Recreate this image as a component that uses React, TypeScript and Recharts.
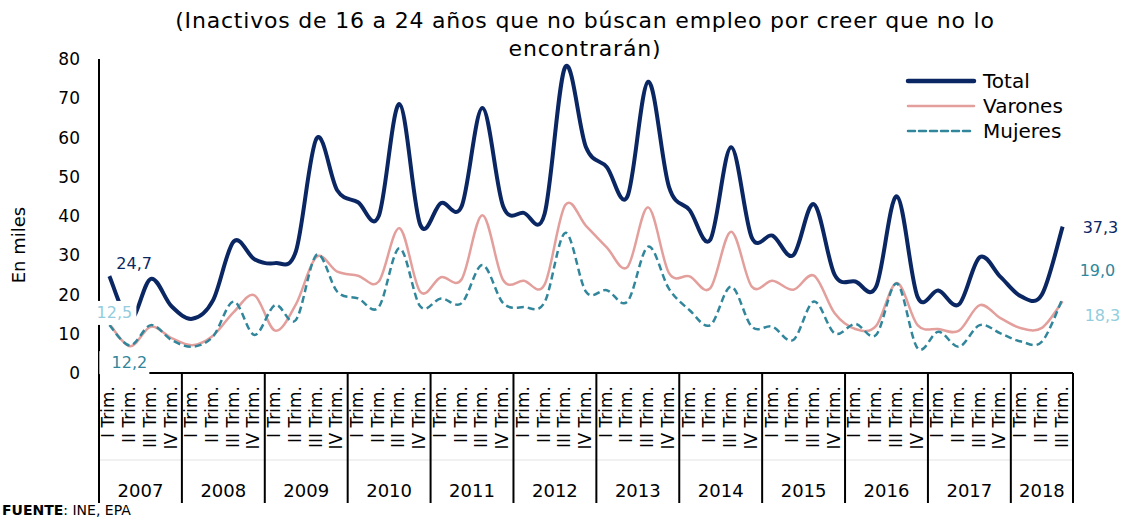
import React from 'react';
import { LineChart, Line, XAxis, YAxis, LabelList } from 'recharts';

const years = ['2007', '2008', '2009', '2010', '2011', '2012', '2013', '2014', '2015', '2016', '2017', '2018'];
const quarterNames = ['I', 'II', 'III', 'IV'];
const yTicks = [0, 10, 20, 30, 40, 50, 60, 70, 80];

const total = [
  24.7, 13.5, 24.0, 17.0, 13.8, 18.5, 33.5, 29.0, 28.0, 31.0, 59.8, 46.5,
  43.5, 40.0, 68.5, 37.8, 43.3, 42.5, 67.5, 42.5, 40.8, 40.5, 78.0, 57.5,
  52.5, 45.0, 74.2, 47.5, 41.5, 34.0, 57.5, 34.5, 35.0, 30.0, 43.0, 25.0,
  23.3, 22.0, 45.0, 19.4, 21.0, 17.5, 29.5, 24.5, 19.5, 20.0, 37.3,
];
const varones = [
  12.5, 6.8, 11.8, 8.9, 7.1, 9.5, 15.5, 19.8, 10.8, 17.5, 29.6, 25.8,
  24.8, 23.3, 36.9, 20.7, 24.4, 23.9, 40.2, 23.7, 23.5, 22.5, 42.8, 37.5,
  32.0, 27.0, 42.2, 25.5, 24.6, 21.6, 36.0, 22.0, 23.5, 21.2, 24.8, 15.2,
  11.2, 12.0, 22.9, 12.2, 11.2, 10.8, 17.3, 14.0, 11.4, 11.5, 18.3,
];
const mujeres = [
  12.2, 7.0, 12.2, 8.4, 6.7, 9.3, 18.2, 9.7, 17.3, 13.5, 30.1, 20.7,
  19.0, 16.8, 31.8, 17.0, 19.0, 17.8, 27.5, 17.8, 16.8, 18.0, 35.7, 20.7,
  21.1, 18.2, 32.2, 21.5, 16.0, 12.2, 22.0, 11.8, 11.8, 8.4, 18.2, 10.1,
  12.5, 9.7, 22.8, 6.3, 10.5, 6.7, 12.2, 10.1, 8.0, 8.0, 19.0,
];

const chartData = total.map((t, i) => ({
  year: years[Math.floor(i / 4)],
  q: quarterNames[i % 4],
  total: t,
  varones: varones[i],
  mujeres: mujeres[i],
}));

const W = 1125;
const H = 520;
const PLOT_LEFT = 99;
const PLOT_RIGHT = 1073;
const BAND = (PLOT_RIGHT - PLOT_LEFT) / chartData.length;
const LAST = chartData.length - 1;
const FONT = '"DejaVu Sans", sans-serif';

const NAVY = '#0b2763';
const PINK = '#e39f9c';
const TEAL = '#31869b';
const LIGHT = '#93cddd';

// Excel-like smoothed line (Catmull-Rom to bezier)
const smoothCurve = (ctx: any) => {
  let pts: number[][] = [];
  return {
    areaStart() {},
    areaEnd() {},
    lineStart() {
      pts = [];
    },
    lineEnd() {
      if (!pts.length) return;
      ctx.moveTo(pts[0][0], pts[0][1]);
      for (let i = 0; i < pts.length - 1; i++) {
        const p0 = pts[i - 1] || pts[i];
        const p1 = pts[i];
        const p2 = pts[i + 1];
        const p3 = pts[i + 2] || p2;
        const t = 1 / 6;
        ctx.bezierCurveTo(
          p1[0] + (p2[0] - p0[0]) * t,
          p1[1] + (p2[1] - p0[1]) * t,
          p2[0] - (p3[0] - p1[0]) * t,
          p2[1] - (p3[1] - p1[1]) * t,
          p2[0],
          p2[1]
        );
      }
    },
    point(x: number, y: number) {
      pts.push([+x, +y]);
    },
  };
};

const fmt = (v: number) => v.toFixed(1).replace('.', ',');

type EndCfg = { dx: number; dy: number; color: string; anchor: string; box?: number[] };

const endLabel = (first: EndCfg, last: EndCfg) => (props: any) => {
  const { x, y, value, index } = props;
  if (index !== 0 && index !== LAST) return null;
  const c = index === 0 ? first : last;
  return (
    <g>
      {c.box && (
        <rect x={x + c.box[0]} y={y + c.box[1]} width={c.box[2]} height={c.box[3]} fill="#fff" />
      )}
      <text
        x={x + c.dx}
        y={y + c.dy}
        fill={c.color}
        textAnchor={c.anchor}
        dominantBaseline="central"
        fontFamily={FONT}
        fontSize={16}
      >
        {fmt(Number(value))}
      </text>
    </g>
  );
};

const QuarterTick = (props: any) => {
  const { x, y, payload } = props;
  const i = payload.index;
  const row = chartData[i];
  const left = x - BAND / 2;
  const count = chartData.filter((d) => d.year === row.year).length;
  return (
    <g>
      <line x1={left} x2={left + BAND} y1={y + 87} y2={y + 87} stroke="#e3e3e3" strokeWidth={1} />
      <text
        x={x + 5}
        y={y + 13}
        transform={`rotate(-90, ${x + 5}, ${y + 13})`}
        textAnchor="end"
        fontFamily={FONT}
        fontSize={17}
        fill="#000"
      >
        {`${row.q} Trim.`}
      </text>
      {row.q === 'I' && (
        <>
          <line x1={left} x2={left} y1={y} y2={y + 130} stroke="#000" strokeWidth={2} />
          <text
            x={left + (count * BAND) / 2}
            y={y + 117}
            textAnchor="middle"
            dominantBaseline="central"
            fontFamily={FONT}
            fontSize={18}
            fill="#000"
          >
            {row.year}
          </text>
        </>
      )}
      {i === LAST && (
        <line x1={left + BAND} x2={left + BAND} y1={y} y2={y + 130} stroke="#000" strokeWidth={2} />
      )}
    </g>
  );
};

const legendItems = [
  { key: 'total', label: 'Total', color: NAVY, width: 4.5, dash: undefined },
  { key: 'varones', label: 'Varones', color: PINK, width: 2.5, dash: undefined },
  { key: 'mujeres', label: 'Mujeres', color: TEAL, width: 2.5, dash: '7 4' },
];

export default function App() {
  return (
    <div style={{ position: 'absolute', left: 0, top: 0, width: W, height: H, background: '#fff', fontFamily: FONT }}>
      <LineChart
        width={W}
        height={H}
        data={chartData}
        margin={{ top: 59, right: W - PLOT_RIGHT, bottom: 17, left: 0 }}
      >
        <XAxis
          dataKey="q"
          interval={0}
          height={130}
          padding={{ left: BAND / 2, right: BAND / 2 }}
          tickLine={false}
          tickSize={0}
          tickMargin={0}
          axisLine={{ stroke: '#000', strokeWidth: 2 }}
          tick={<QuarterTick />}
        />
        <YAxis
          width={PLOT_LEFT}
          domain={[0, 80]}
          ticks={yTicks}
          interval={0}
          tickLine={false}
          tickSize={0}
          tickMargin={19}
          axisLine={{ stroke: '#000', strokeWidth: 2 }}
          tick={{ fill: '#000', fontSize: 17, fontFamily: FONT }}
        />
        <Line
          dataKey="total"
          name="Total"
          type={smoothCurve as any}
          stroke={NAVY}
          strokeWidth={4}
          dot={false}
          isAnimationActive={false}
        >
          <LabelList
            dataKey="total"
            content={endLabel(
              { dx: 7, dy: -13, color: NAVY, anchor: 'start' },
              { dx: 20, dy: 1, color: NAVY, anchor: 'start' }
            )}
          />
        </Line>
        <Line
          dataKey="varones"
          name="Varones"
          type={smoothCurve as any}
          stroke={PINK}
          strokeWidth={2.5}
          dot={false}
          isAnimationActive={false}
        >
          <LabelList
            dataKey="varones"
            content={endLabel(
              { dx: 5, dy: -11, color: LIGHT, anchor: 'middle', box: [-15, -23, 42, 24] },
              { dx: 22, dy: 14, color: LIGHT, anchor: 'start' }
            )}
          />
        </Line>
        <Line
          dataKey="mujeres"
          name="Mujeres"
          type={smoothCurve as any}
          stroke={TEAL}
          strokeWidth={2.5}
          strokeDasharray="7 4"
          dot={false}
          isAnimationActive={false}
        >
          <LabelList
            dataKey="mujeres"
            content={endLabel(
              { dx: 20, dy: 37, color: TEAL, anchor: 'middle', box: [-10, 26, 50, 23] },
              { dx: 17, dy: -28, color: TEAL, anchor: 'start' }
            )}
          />
        </Line>
      </LineChart>
      <div
        style={{
          position: 'absolute',
          left: 85,
          width: 1000,
          top: 7,
          textAlign: 'center',
          fontSize: 22,
          letterSpacing: 0.8,
          lineHeight: '28px',
          color: '#000',
        }}
      >
        (Inactivos de 16 a 24 años que no búscan empleo por creer que no lo
        <br />
        encontrarán)
      </div>
      <div style={{ position: 'absolute', left: 905, top: 68, fontSize: 20, color: '#000' }}>
        {legendItems.map((it) => (
          <div key={it.key} style={{ display: 'flex', alignItems: 'center', height: 25 }}>
            <svg width={72} height={10} style={{ marginRight: 6 }}>
              <line
                x1={3}
                x2={69}
                y1={5}
                y2={5}
                stroke={it.color}
                strokeWidth={it.width}
                strokeDasharray={it.dash}
                strokeLinecap="round"
              />
            </svg>
            <span>{it.label}</span>
          </div>
        ))}
      </div>
      <div
        style={{
          position: 'absolute',
          left: 18,
          top: 245,
          transform: 'translate(-50%, -50%) rotate(-90deg)',
          fontSize: 18,
          whiteSpace: 'nowrap',
          color: '#000',
        }}
      >
        En miles
      </div>
      <div style={{ position: 'absolute', left: 2, top: 502, fontSize: 14, color: '#000' }}>
        <b>FUENTE</b>: INE, EPA
      </div>
    </div>
  );
}
